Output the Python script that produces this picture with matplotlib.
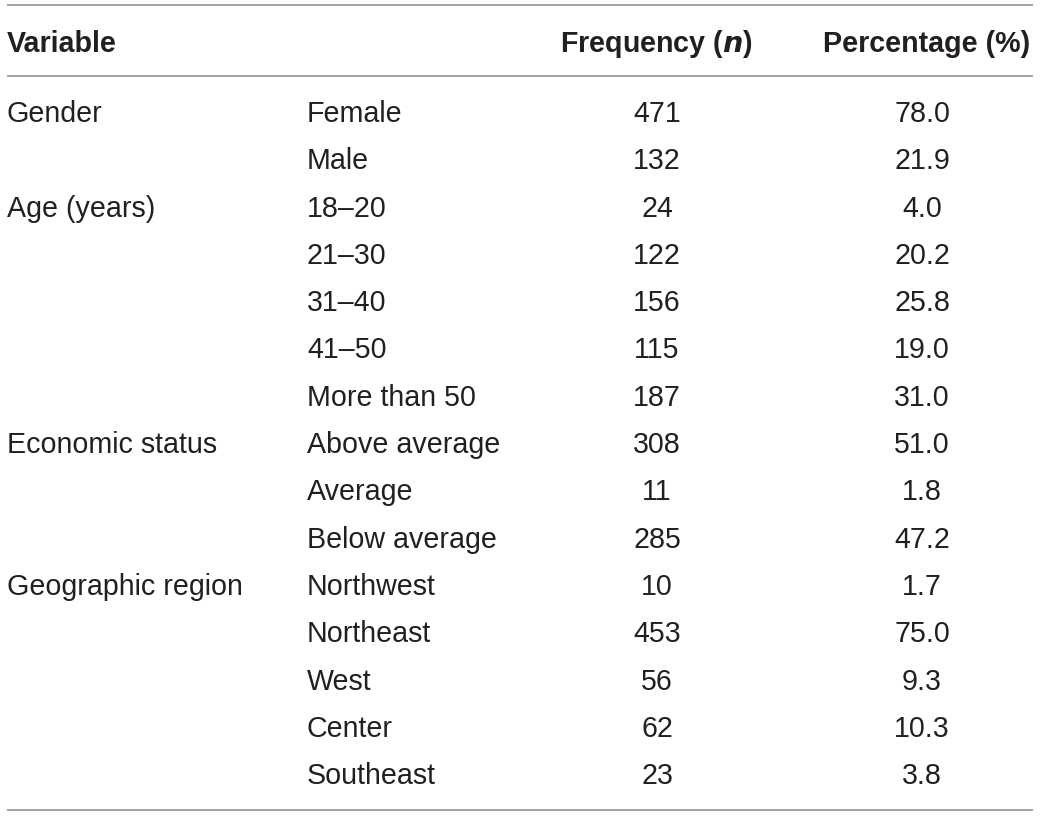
import matplotlib
matplotlib.use('Agg')
import matplotlib.pyplot as plt

plt.rcParams['font.family'] = ['Liberation Sans', 'DejaVu Sans']

# table data
variables = ['Gender', '', 'Age (years)', '', '', '', '', 'Economic status', '', '',
             'Geographic region', '', '', '', '']
categories = ['Female', 'Male', '18\u201320', '21\u201330', '31\u201340', '41\u201350', 'More than 50',
              'Above average', 'Average', 'Below average',
              'Northwest', 'Northeast', 'West', 'Center', 'Southeast']
frequency = [471, 132, 24, 122, 156, 115, 187, 308, 11, 285, 10, 453, 56, 62, 23]
percentage = [78.0, 21.9, 4.0, 20.2, 25.8, 19.0, 31.0, 51.0, 1.8, 47.2, 1.7, 75.0, 9.3, 10.3, 3.8]

W, H = 1040, 816
fig = plt.figure(figsize=(W / 100, H / 100), dpi=100)
ax = fig.add_axes([0, 0, 1, 1])
ax.set_xlim(0, W)
ax.set_ylim(H, 0)
ax.axis('off')

fs = 20.6
txt = '#231f20'
line_c = '#9a9a9a'

# rules
for y in (5, 76, 810):
    ax.plot([7, 1033], [y, y], color=line_c, lw=1.3, solid_capstyle='butt')

# header
hy = 44
ax.text(7, hy, 'Variable', fontsize=fs, fontweight='bold', color=txt, va='center', ha='left')
ax.text(656, hy, 'Frequency ($\\mathbfit{n}$)', fontsize=fs, fontweight='bold', color=txt,
        va='center', ha='center')
ax.text(927, hy, 'Percentage (%)', fontsize=fs, fontweight='bold', color=txt, va='center', ha='center')

y0, dy = 114, 47.3
for i in range(len(categories)):
    y = y0 + i * dy
    if variables[i]:
        ax.text(7, y, variables[i], fontsize=fs, color=txt, va='center', ha='left')
    ax.text(307, y, categories[i], fontsize=fs, color=txt, va='center', ha='left')
    ax.text(657, y, str(frequency[i]), fontsize=fs, color=txt, va='center', ha='center')
    ax.text(922, y, f'{percentage[i]:.1f}', fontsize=fs, color=txt, va='center', ha='center')

fig.savefig('out.png', dpi=100)
